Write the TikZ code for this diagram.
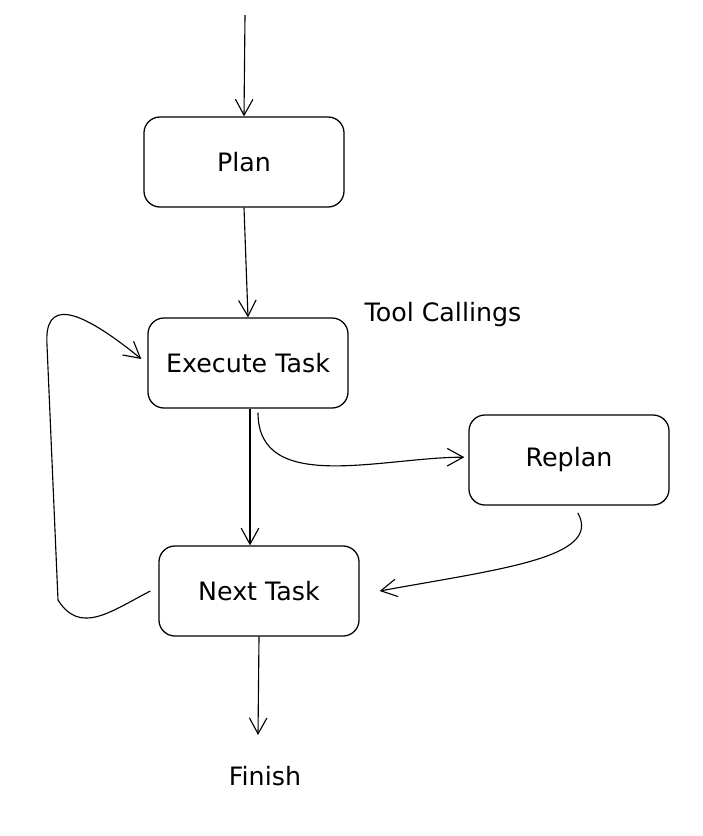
\documentclass[tikz,border=0pt]{standalone}
\usepackage{fontspec}
\setmainfont{DejaVu Sans}
\usetikzlibrary{arrows.meta}

\begin{document}
\begin{tikzpicture}[x=0.025cm,y=-0.025cm,
  box/.style={draw,line width=0.9pt,rounded corners=0.4cm,minimum width=5cm,minimum height=2.25cm,font=\fontsize{18}{22}\selectfont},
  lbl/.style={font=\fontsize{18}{22}\selectfont},
  arr/.style={line width=0.8pt,-{Straight Barb[length=4mm,width=4.4mm]}}]
\useasboundingbox (0,0) rectangle (703,836);

\node[box] (plan) at (244,162) {Plan};
\node[box] (exec) at (248,363) {Execute Task};
\node[box] (replan) at (569,460) {Replan};
\node[box] (next) at (259,591) {Next Task};
\node[lbl] (tool) at (443,315) {Tool Callings};
\node[lbl] (finish) at (265,776) {Finish};
\coordinate (start) at (245,15);
\coordinate (end) at (258,735);

\draw[arr] (start) -- (plan.north);
\draw[arr] (plan.south) -- (exec.north);
\draw[arr] ([xshift=0.05cm]exec.south) -- ([xshift=0.05cm]exec.south |- next.north);
%tool calls
\draw[arr] ([xshift=0.25cm,yshift=-0.1cm]exec.south) to[out=-90,in=180] ([xshift=-0.1cm,yshift=0.07cm]replan.west);
\draw[arr] ([xshift=0.22cm,yshift=-0.18cm]replan.south) .. controls +(25,45) and +(120,-22) .. ([xshift=0.5cm]next.east);
%loop back
\draw[arr] ([xshift=-0.2cm]next.west) .. controls (110,612) and (80,635) .. (58,600) -- (47,345) .. controls (44,300) and (75,305) .. ([xshift=-0.15cm,yshift=0.1cm]exec.west);
\draw[arr] (next.south) -- (end);

\end{tikzpicture}
\end{document}
